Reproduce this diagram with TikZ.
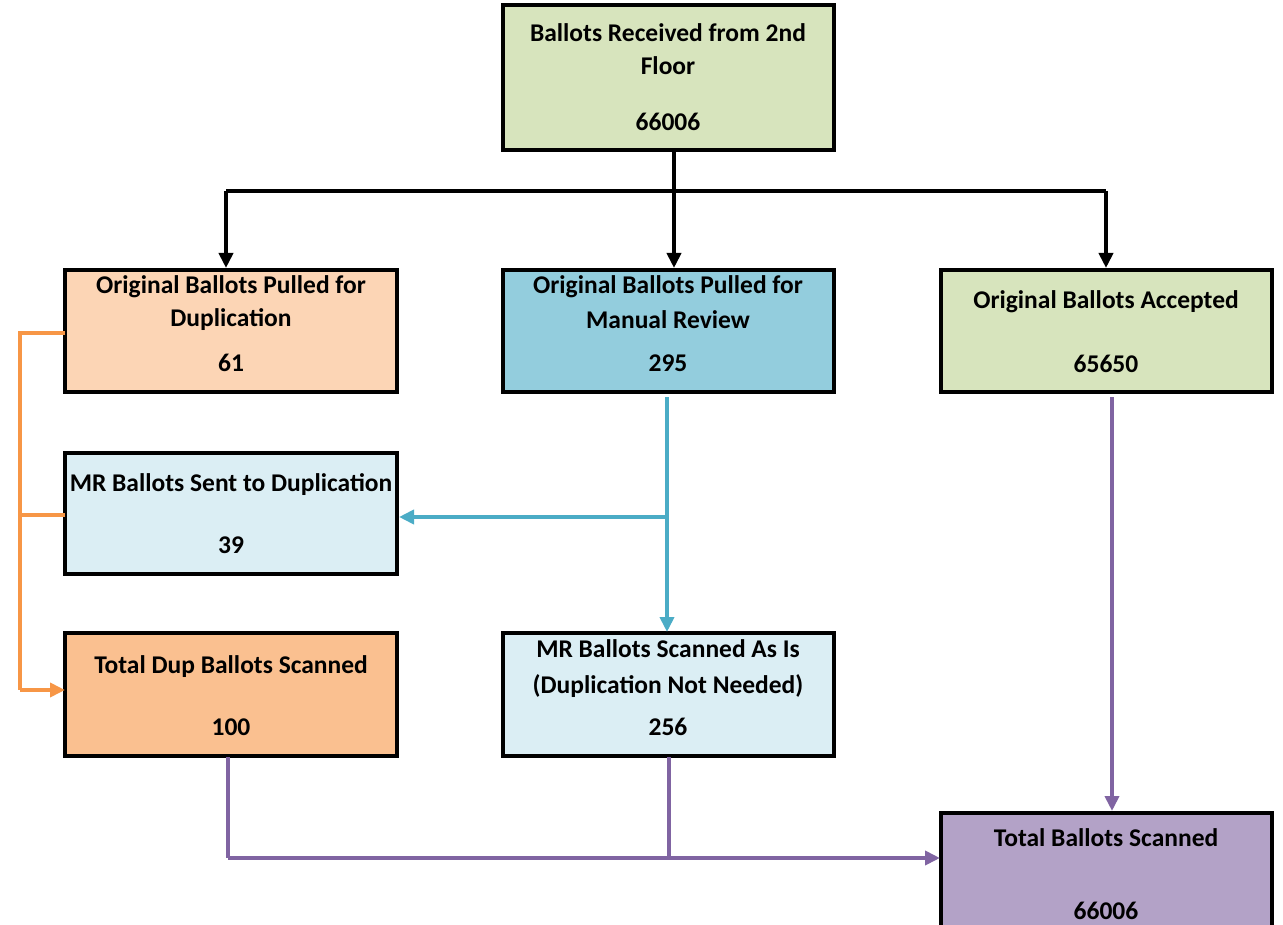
\documentclass[tikz,border=0pt]{standalone}
\usepackage{fontspec}
\setmainfont{Carlito}
\usetikzlibrary{arrows.meta}
\definecolor{cgreen}{HTML}{D7E4BD}
\definecolor{cpeach}{HTML}{FCD5B5}
\definecolor{cblue}{HTML}{93CDDD}
\definecolor{clblue}{HTML}{DBEEF4}
\definecolor{corange}{HTML}{FAC090}
\definecolor{cpurple}{HTML}{B3A2C7}
\definecolor{lorange}{HTML}{F79646}
\definecolor{lteal}{HTML}{4BACC6}
\definecolor{lpurple}{HTML}{8064A2}
\tikzset{
  box/.style={draw=black,line width=3.5pt},
  txt/.style={font=\fontsize{25.5}{30}\selectfont\bfseries,inner sep=0pt,anchor=center},
  conn/.style={line width=4pt},
  tip/.style={-{Triangle[length=15pt,width=14pt]}},
}
\begin{document}
\begin{tikzpicture}[x=1pt,y=-1pt]
\useasboundingbox (0,0) rectangle (1283,925);
% boxes
\path[box,fill=cgreen] (503,5) rectangle (834,150);
\path[box,fill=cpeach] (65,270) rectangle (397,392);
\path[box,fill=cblue] (503,270) rectangle (834,392);
\path[box,fill=cgreen] (941,270) rectangle (1272,392);
\path[box,fill=clblue] (65,453) rectangle (397,574);
\path[box,fill=corange] (65,633) rectangle (397,756);
\path[box,fill=clblue] (503,633) rectangle (834,756);
\path[box,fill=cpurple] (941,813) rectangle (1272,940);
% texts
\node[txt] (t1) at (668,33) {Ballots Received from 2nd};
\node[txt] (t2) at (668,66) {Floor};
\node[txt] (t3) at (668,122) {66006};
\node[txt] (a1) at (231,287) {Original Ballots Pulled for};
\node[txt] (a2) at (231,320) {Duplication};
\node[txt] (a3) at (231,363) {61};
\node[txt] (b1) at (668,287) {Original Ballots Pulled for};
\node[txt] (b2) at (668,320) {Manual Review};
\node[txt] (b3) at (668,363) {295};
\node[txt] (c1) at (1106,302) {Original Ballots Accepted};
\node[txt] (c3) at (1106,364) {65650};
\node[txt] (d1) at (231,485) {MR Ballots Sent to Duplication};
\node[txt] (d3) at (231,545) {39};
\node[txt] (e1) at (231,667) {Total Dup Ballots Scanned};
\node[txt] (e3) at (231,727) {100};
\node[txt] (f1) at (668,649) {MR Ballots Scanned As Is};
\node[txt] (f2) at (668,686) {(Duplication Not Needed)};
\node[txt] (f3) at (668,727) {256};
\node[txt] (g1) at (1106,838) {Total Ballots Scanned};
\node[txt] (g3) at (1106,911) {66006};
% coordinates
\coordinate (topB) at (674,150);
\coordinate (jL) at (226,191);
\coordinate (jR) at (1106,191);
\coordinate (aT) at (226,268);
\coordinate (bT) at (674,268);
\coordinate (cT) at (1106,268);
\coordinate (aL) at (65,333);
\coordinate (dL) at (65,515);
\coordinate (eL) at (65,690);
\coordinate (oTop) at (20,333);
\coordinate (oMid) at (20,515);
\coordinate (oBot) at (20,690);
\coordinate (bB) at (667,397);
\coordinate (tJ) at (667,517);
\coordinate (dR) at (399,517);
\coordinate (fT) at (667,632);
\coordinate (cB) at (1112,397);
\coordinate (gT) at (1112,811);
\coordinate (eB) at (228,757);
\coordinate (eJ) at (228,858);
\coordinate (fB) at (669,757);
\coordinate (fJ) at (669,858);
\coordinate (gL) at (940,858);
% black
\draw[conn,tip] (topB) -- (bT);
\draw[conn] (jL) -- (jR);
\draw[conn,tip] (jL) -- (aT);
\draw[conn,tip] (jR) -- (cT);
% orange
\draw[conn,draw=lorange] (aL) -- (oTop) -- (oBot);
\draw[conn,draw=lorange,tip] (oBot) -- (eL);
\draw[conn,draw=lorange] (dL) -- (oMid);
% teal
\draw[conn,draw=lteal,tip] (bB) -- (fT);
\draw[conn,draw=lteal,tip] (tJ) -- (dR);
% purple
\draw[conn,draw=lpurple,tip] (cB) -- (gT);
\draw[conn,draw=lpurple] (eB) -- (eJ);
\draw[conn,draw=lpurple,tip] (eJ) -- (gL);
\draw[conn,draw=lpurple] (fB) -- (fJ);
\end{tikzpicture}
\end{document}
